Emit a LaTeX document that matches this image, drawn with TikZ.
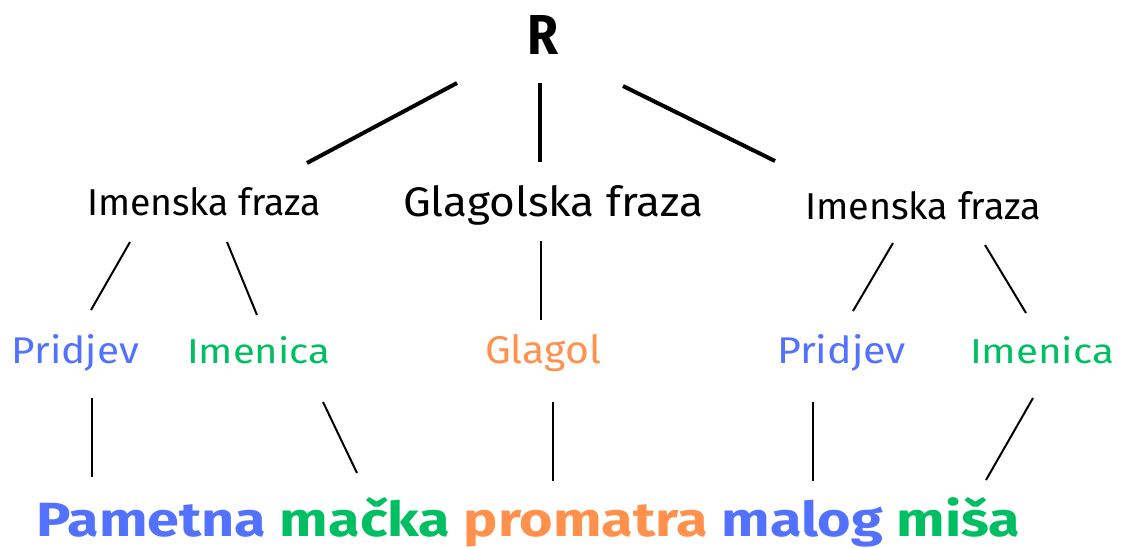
\documentclass[tikz,border=0pt]{standalone}
\usepackage{fontspec}
\usepackage{graphicx}
\setmainfont{Fira Sans}
\definecolor{cblue}{HTML}{5271FF}
\definecolor{cgreen}{HTML}{00BF63}
\definecolor{corange}{HTML}{FF914D}
\newcommand{\fitbox}[3]{\resizebox{#1pt}{#2pt}{#3}}
\tikzset{
  lbl/.style={inner sep=0pt, outer sep=0pt, anchor=base west},
  thickline/.style={line width=4pt, black},
  thinline/.style={line width=2pt, black},
}
\begin{document}
\begin{tikzpicture}[x=1pt,y=-1pt]
\useasboundingbox (0,0) rectangle (1123,547);
% nodes
\node[lbl] (R) at (527,54) {\fitbox{31}{39}{\bfseries R}};
\node[lbl] (IF1) at (87,215) {\fitbox{234}{28}{Imenska fraza}};
\node[lbl] (GF) at (403,216) {\fitbox{300}{31}{Glagolska fraza}};
\node[lbl] (IF2) at (805,219) {\fitbox{236}{28}{Imenska fraza}};
\node[lbl,text=cblue] (P1) at (12,363) {\fitbox{127}{29}{Pridjev}};
\node[lbl,text=cgreen] (I1) at (187,363) {\fitbox{143}{27}{Imenica}};
\node[lbl,text=corange] (G) at (485,363) {\fitbox{116}{29}{Glagol}};
\node[lbl,text=cblue] (P2) at (777,363) {\fitbox{129}{29}{Pridjev}};
\node[lbl,text=cgreen] (I2) at (970,363) {\fitbox{144}{27}{Imenica}};
\node[lbl] (S) at (36,536) {\fitbox{984}{39}{\bfseries\textcolor{cblue}{Pametna} \textcolor{cgreen}{mačka} \textcolor{corange}{promatra} \textcolor{cblue}{malog} \textcolor{cgreen}{miša}}};
% connector end points
\coordinate (a1) at (457,83);  \coordinate (a2) at (307,163);
\coordinate (b1) at (540,83);  \coordinate (b2) at (540,162);
\coordinate (c1) at (623,86);  \coordinate (c2) at (775,161);
\coordinate (d1) at (130,242); \coordinate (d2) at (91,310);
\coordinate (e1) at (227,242); \coordinate (e2) at (257,315);
\coordinate (f1) at (541,241); \coordinate (f2) at (541,320);
\coordinate (g1) at (893,243); \coordinate (g2) at (853,311);
\coordinate (h1) at (985,245); \coordinate (h2) at (1026,313);
\coordinate (i1) at (92,398);  \coordinate (i2) at (92,477);
\coordinate (j1) at (323,402); \coordinate (j2) at (357,473);
\coordinate (k1) at (553,402); \coordinate (k2) at (553,481);
\coordinate (l1) at (813,402); \coordinate (l2) at (813,481);
\coordinate (m1) at (1033,398);\coordinate (m2) at (986,480);
% connectors
\draw[thickline] (a1) -- (a2);
\draw[thickline] (b1) -- (b2);
\draw[thickline] (c1) -- (c2);
\draw[thinline] (d1) -- (d2);
\draw[thinline] (e1) -- (e2);
\draw[thinline] (f1) -- (f2);
\draw[thinline] (g1) -- (g2);
\draw[thinline] (h1) -- (h2);
\draw[thinline] (i1) -- (i2);
\draw[thinline] (j1) -- (j2);
\draw[thinline] (k1) -- (k2);
\draw[thinline] (l1) -- (l2);
\draw[thinline] (m1) -- (m2);
\end{tikzpicture}
\end{document}
